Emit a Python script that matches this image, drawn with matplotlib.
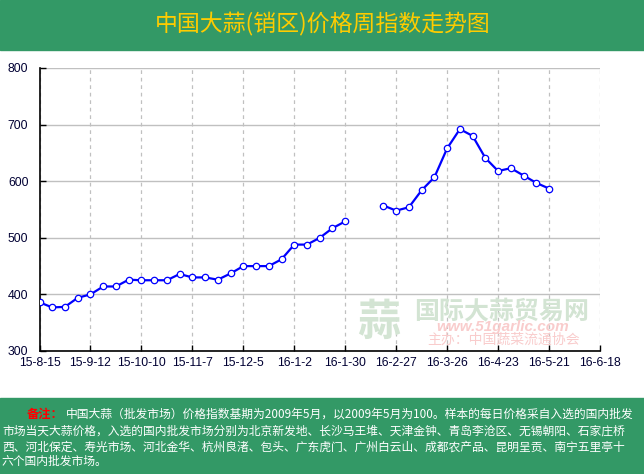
import matplotlib.pyplot as plt
import numpy as np
from matplotlib.patches import Rectangle

plt.rcParams['font.family'] = ['Noto Sans CJK SC', 'DejaVu Sans']

title = "中国大蒜(销区)价格周指数走势图"
tick_labels = ['15-8-15', '15-9-12', '15-10-10', '15-11-7', '15-12-5', '16-1-2',
               '16-1-30', '16-2-27', '16-3-26', '16-4-23', '16-5-21', '16-6-18']
# weekly index values, None = no data that week
index_vals = [386, 377, 378, 394, 400, 414, 414, 426, 425, 425, 425, 436, 430, 430,
              426, 437, 450, 450, 450, 462, 488, 488, 500, 517, 529, None, None,
              557, 548, 554, 584, 607, 658, 692, 680, 641, 618, 623, 610, 597, 587]
y_ticks = [300, 400, 500, 600, 700, 800]
note_head = "备注："
note_lines = [
    "中国大蒜（批发市场）价格指数基期为2009年5月，以2009年5月为100。样本的每日价格采自入选的国内批发",
    "市场当天大蒜价格，入选的国内批发市场分别为北京新发地、长沙马王堆、天津金钟、青岛李沧区、无锡朝阳、石家庄桥",
    "西、河北保定、寿光市场、河北金华、杭州良渚、包头、广东虎门、广州白云山、成都农产品、昆明呈贡、南宁五里亭十",
    "六个国内批发市场。",
]

W, H = 644, 474
fig = plt.figure(figsize=(W / 100, H / 100), dpi=100)
green = '#339966'

# header and footer bands
fig.patches.append(Rectangle((0, 1 - 50 / H), 1, 50 / H, transform=fig.transFigure,
                             color=green, zorder=0))
fig.patches.append(Rectangle((0, 0), 1, 76 / H, transform=fig.transFigure,
                             color=green, zorder=0))
fig.text(323 / W, 1 - 24 / H, title, color='#ffcc00', fontsize=16.5,
         ha='center', va='center')

ax = fig.add_axes([39.5 / W, 1 - 351 / H, (600 - 39.5) / W, (351 - 68) / H])

weeks = np.arange(len(index_vals))
vals = np.array([np.nan if v is None else v for v in index_vals], dtype=float)
ax.plot(weeks, vals, color='#0000ff', lw=1.6, marker='o', markersize=4.6,
        markerfacecolor='white', markeredgecolor='#0000ff', markeredgewidth=0.9,
        zorder=5)

ax.set_xlim(0, 44)
ax.set_ylim(300, 800)
ax.set_xticks(np.arange(0, 45, 4))
ax.set_xticklabels(tick_labels)
ax.set_yticks(y_ticks)
for lab in ax.get_xticklabels() + ax.get_yticklabels():
    lab.set_family('Liberation Sans')
    lab.set_fontsize(8.8)
    lab.set_color('#000033')
ax.tick_params(axis='both', direction='in', length=4, width=1, color='black')
ax.tick_params(axis='x', pad=4)
ax.tick_params(axis='y', pad=8)

ax.spines['top'].set_visible(False)
ax.spines['right'].set_visible(False)
ax.spines['left'].set_linewidth(1.2)
ax.spines['bottom'].set_linewidth(1.2)
ax.yaxis.grid(True, color='#c0c0c0', lw=1, ls='-')
ax.xaxis.grid(True, color='#c0c0c0', lw=0.9, ls=(0, (3, 3)))
ax.set_axisbelow(True)

# watermark
wm_green = '#d3e4d3'
wm_pink = '#f9cccc'
fig.text(379 / W, 1 - 322 / H, "蒜", color=wm_green, fontsize=31, fontweight='bold',
         ha='center', va='center', zorder=1)
fig.text(502 / W, 1 - 311 / H, "国际大蒜贸易网", color=wm_green, fontsize=18,
         fontweight='bold', ha='center', va='center', zorder=1)
fig.text(503 / W, 1 - 327 / H, "www.51garlic.com", color=wm_pink, fontsize=11,
         family='Liberation Sans', fontweight='bold', style='italic',
         ha='center', va='center', zorder=1)
fig.text(504 / W, 1 - 339.5 / H, "主办：中国蔬菜流通协会", color=wm_pink, fontsize=10,
         ha='center', va='center', zorder=1)

# note in footer, each line shrunk to the width it has in the reference
fig.text(27 / W, 1 - 414 / H, note_head, color='red', fontsize=8.8,
         fontweight='bold', ha='left', va='center')
ys = [414, 430.7, 446.7, 461.5]
xs = [66, 2, 2, 2]
renderer = fig.canvas.get_renderer()
texts = []
for line, x, y in zip(note_lines, xs, ys):
    t = fig.text(x / W, 1 - y / H, line, color='white', fontsize=8.8,
                 ha='left', va='center')
    texts.append(t)
size = 8.8
for t, x in zip(texts[:3], xs[:3]):
    w = t.get_window_extent(renderer).width
    size = min(size, 8.8 * (636 - x) / w)
for t in texts:
    t.set_fontsize(size)

fig.savefig('out.png', dpi=100)
